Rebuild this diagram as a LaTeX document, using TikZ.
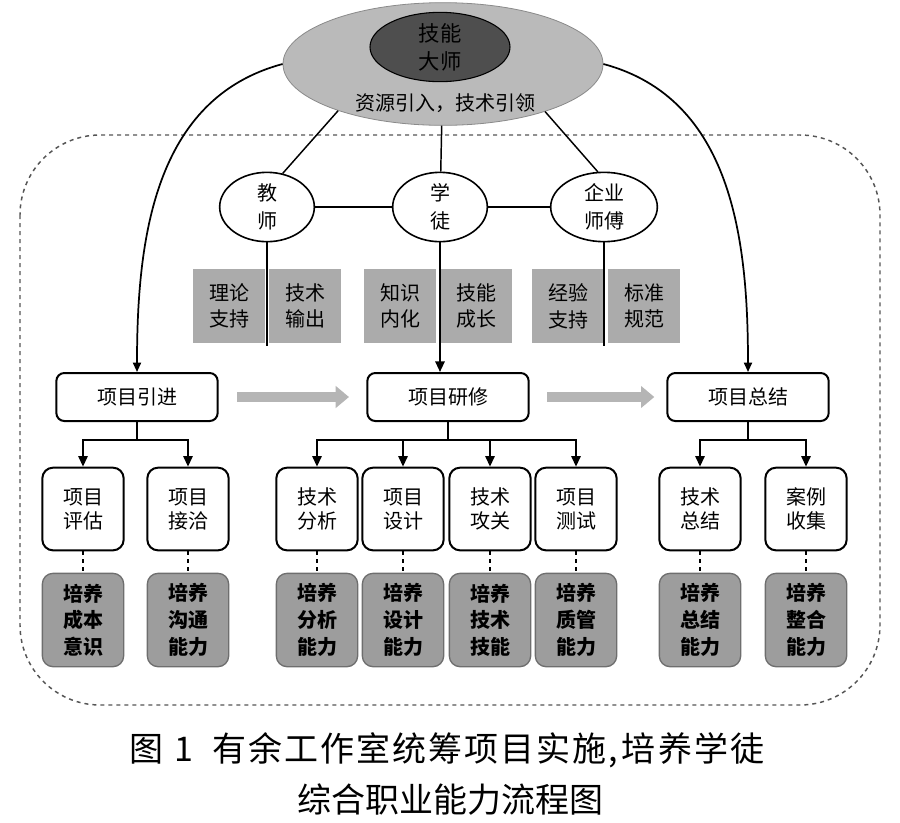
\documentclass[tikz,border=0pt]{standalone}
\usepackage{fontspec}
\newfontfamily\cjk{Noto Sans CJK SC}
\usepackage{tikz}
\usetikzlibrary{arrows.meta, positioning, shapes.geometric, calc}
\definecolor{mstlight}{HTML}{BABABA}
\definecolor{mstedge}{HTML}{8A8A8A}
\definecolor{mstdark}{HTML}{4E4E4E}
\definecolor{tagfill}{HTML}{ABABAB}
\definecolor{goalfill}{HTML}{9D9D9D}
\definecolor{goaledge}{HTML}{6E6E6E}
\definecolor{flowgray}{HTML}{B5B5B5}
\definecolor{framegray}{HTML}{555555}

\begin{document}
\begin{tikzpicture}[x=0.75pt, y=0.75pt,
  every node/.style={font=\cjk\fontsize{15}{18}\selectfont, align=center, inner sep=0pt},
  master/.style={ellipse, draw=mstedge, fill=mstlight, line width=0.6pt,
                 minimum width=240pt, minimum height=92pt},
  core/.style={ellipse, draw=black, fill=mstdark, line width=0.8pt,
               minimum width=105pt, minimum height=52pt, font=\cjk\fontsize{16}{21}\selectfont},
  role/.style={ellipse, draw=black, fill=white, line width=1.2pt,
               minimum width=71pt, minimum height=52pt, font=\cjk\fontsize{15}{21}\selectfont},
  tag/.style={fill=tagfill, minimum width=54pt, minimum height=55pt,
              font=\cjk\fontsize{15}{20}\selectfont},
  stage/.style={draw=black, fill=white, rounded corners=6pt, line width=1.5pt,
                minimum width=121pt, minimum height=36pt},
  task/.style={draw=black, fill=white, rounded corners=8pt, line width=1.5pt,
               minimum width=61pt, minimum height=62pt},
  goal/.style={draw=goaledge, fill=goalfill, rounded corners=8pt, line width=1pt,
               minimum width=61pt, minimum height=70pt, font=\cjk\bfseries\fontsize{15}{20}\selectfont},
  link/.style={line width=1.1pt},
  down/.style={-{Triangle[length=8pt,width=7pt]}, line width=1.5pt},
  curvearr/.style={-{Triangle[length=7pt,width=6pt]}, line width=1.3pt},
  progress/.style={-{Triangle[length=10pt,width=16pt]}, line width=7pt, color=flowgray},
  dashlink/.style={dashed, line width=1.1pt},
  outline/.style={dashed, draw=framegray, line width=1.1pt, rounded corners=60pt},
  caption/.style={font=\cjk\fontsize{25.5}{30}\selectfont},
]
\useasboundingbox (0,0) rectangle (900,-822);

\draw[outline] (20,-135) rectangle (880,-705);

\node[master] (ms)   at (443,-64)  {};
\node[core]   (core) at (440,-47)  {技能\\大师};
\node         (res)  at (445,-103) {资源引入，技术引领};

\node[tag] (t1) at (229,-306) {理论\\支持};
\node[tag] (t2) at (305,-306) {技术\\输出};
\node[tag] (t3) at (400,-306) {知识\\内化};
\node[tag] (t4) at (476,-306) {技能\\成长};
\node[tag] (t5) at (568,-306) {经验\\支持};
\node[tag] (t6) at (644,-306) {标准\\规范};

\node[role] (js) at (267,-207) {教\\师};
\node[role] (xt) at (440,-207) {学\\徒};
\node[role, minimum width=80pt] (qs) at (604,-207) {企业\\师傅};

\node[stage] (yj) at (137,-397) {项目引进};
\node[stage] (yx) at (448,-397) {项目研修};
\node[stage] (zj) at (748,-397) {项目总结};

\node[task] (pg) at (83,-509)  {项目\\评估};
\node[task] (jq) at (188,-509) {项目\\接洽};
\node[task] (fx) at (317,-509) {技术\\分析};
\node[task] (sj) at (403,-509) {项目\\设计};
\node[task] (gg) at (490,-509) {技术\\攻关};
\node[task] (cs) at (576,-509) {项目\\测试};
\node[task] (jz) at (700,-509) {技术\\总结};
\node[task] (sl) at (806,-509) {案例\\收集};

\node[goal] (pg2) at (83,-620)  {培养\\成本\\意识};
\node[goal] (jq2) at (188,-620) {培养\\沟通\\能力};
\node[goal] (fx2) at (317,-620) {培养\\分析\\能力};
\node[goal] (sj2) at (403,-620) {培养\\设计\\能力};
\node[goal] (gg2) at (490,-620) {培养\\技术\\技能};
\node[goal] (cs2) at (576,-620) {培养\\质管\\能力};
\node[goal] (jz2) at (700,-620) {培养\\总结\\能力};
\node[goal] (sl2) at (806,-620) {培养\\整合\\能力};

\coordinate (jsend) at (267,-346);
\coordinate (qsend) at (604,-346);

\draw[link] (ms.204) -- (js.65);
\draw[link] (ms) -- (xt);
\draw[link] (ms.335) -- (qs.100);
\draw[link] (js) -- (xt);
\draw[link] (xt) -- (qs);
\draw[link] (js) -- (jsend);
\draw[link] (qs) -- (qsend);
\draw[down] (xt) -- (xt |- yx.north);

\draw[curvearr] (ms.west) to[out=195, in=90] (yj.north);
\draw[curvearr] (ms.east) to[out=-15, in=90] (zj.north);

\draw[progress, shorten <=14pt, shorten >=13pt] (yj) -- (yx);
\draw[progress, shorten <=13pt, shorten >=9pt] (yx) -- (zj);

\draw[down] (yj.south) -- ++(0,-18) -| (pg.north);
\draw[down] (yj.south) -- ++(0,-18) -| (jq.north);
\draw[down] (yx.south) -- ++(0,-18) -| (fx.north);
\draw[down] (yx.south) -- ++(0,-18) -| (sj.north);
\draw[down] (yx.south) -- ++(0,-18) -| (gg.north);
\draw[down] (yx.south) -- ++(0,-18) -| (cs.north);
\draw[down] (zj.south) -- ++(0,-18) -| (jz.north);
\draw[down] (zj.south) -- ++(0,-18) -| (sl.north);

\draw[dashlink] (pg) -- (pg2);
\draw[dashlink] (jq) -- (jq2);
\draw[dashlink] (fx) -- (fx2);
\draw[dashlink] (sj) -- (sj2);
\draw[dashlink] (gg) -- (gg2);
\draw[dashlink] (cs) -- (cs2);
\draw[dashlink] (jz) -- (jz2);
\draw[dashlink] (sl) -- (sl2);

\node[caption] (cap1) at (447,-750)
  {\addfontfeatures{LetterSpace=6}图\hspace{8pt}1\hspace{14pt}有余工作室统筹项目实施,\hspace{3pt}培养学徒};
\node[caption] (cap2) at (450,-800) {综合职业能力流程图};

\end{tikzpicture}
\end{document}
